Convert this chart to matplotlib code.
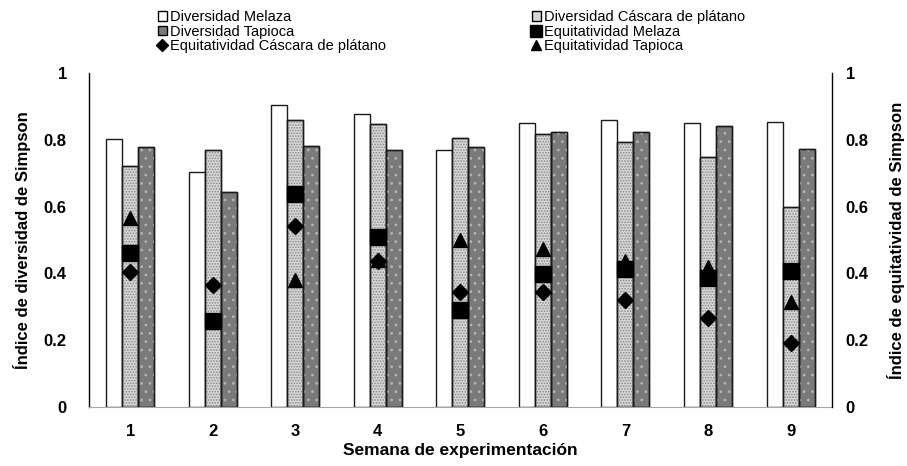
import numpy as np
import matplotlib.pyplot as plt
from matplotlib.patches import Patch
from matplotlib.lines import Line2D

plt.rcParams['font.family'] = ['Liberation Sans', 'DejaVu Sans']
plt.rcParams['hatch.linewidth'] = 0.8

semanas = ['1', '2', '3', '4', '5', '6', '7', '8', '9']

# diversidad (eje izquierdo)
div_melaza = [0.802, 0.704, 0.905, 0.876, 0.770, 0.851, 0.858, 0.849, 0.854]
div_cascara = [0.721, 0.770, 0.858, 0.846, 0.805, 0.817, 0.793, 0.748, 0.598]
div_tapioca = [0.777, 0.645, 0.782, 0.768, 0.777, 0.823, 0.823, 0.840, 0.772]

# equitatividad (eje derecho)
eq_melaza = [0.461, 0.258, 0.638, 0.508, 0.290, 0.397, 0.414, 0.387, 0.406]
eq_cascara = [0.404, 0.364, 0.543, 0.437, 0.343, 0.345, 0.321, 0.265, 0.192]
eq_tapioca = [0.565, None, 0.381, 0.440, 0.501, 0.474, 0.437, 0.419, 0.314]

x = np.arange(len(semanas))
w = 0.194

fig = plt.figure(figsize=(9.07, 4.66), dpi=100)
ax = fig.add_axes([0.0981, 0.1266, 0.819, 0.7168])

ax.bar(x - w, div_melaza, w, color='white', edgecolor='#1a1a1a', linewidth=1.0, zorder=2)
ax.bar(x, div_cascara, w, color='#d6d6d6', edgecolor='#1a1a1a', linewidth=1.0, zorder=2)
ax.bar(x, div_cascara, w, color='none', edgecolor='#8a8a8a', hatch='......', linewidth=0, zorder=2.1)
ax.bar(x + w, div_tapioca, w, color='#7a7a7a', edgecolor='#1a1a1a', linewidth=1.0, zorder=2)
ax.bar(x + w, div_tapioca, w, color='none', edgecolor='#b4b4b4', hatch='..', linewidth=0, zorder=2.1)
# bordes por encima del rayado
ax.bar(x, div_cascara, w, color='none', edgecolor='#1a1a1a', linewidth=1.0, zorder=2.2)
ax.bar(x + w, div_tapioca, w, color='none', edgecolor='#1a1a1a', linewidth=1.0, zorder=2.2)

ax.set_xlim(-0.5, len(semanas) - 0.5)
ax.set_ylim(0, 1)
ax.set_yticks([0, 0.2, 0.4, 0.6, 0.8, 1])
ax.set_yticklabels(['0', '0.2', '0.4', '0.6', '0.8', '1'])
ax.set_xticks(x)
ax.set_xticklabels(semanas)
ax.tick_params(axis='both', length=0, labelsize=12)
ax.tick_params(axis='y', pad=16)
ax.tick_params(axis='x', pad=12)
for lab in ax.get_xticklabels() + ax.get_yticklabels():
    lab.set_fontweight('bold')
ax.spines['top'].set_visible(False)
ax.spines['right'].set_visible(False)
ax.spines['bottom'].set_color('#a6a6a6')
ax.spines['left'].set_linewidth(1.0)
ax.set_xlabel('Semana de experimentación', fontsize=12.5, fontweight='bold', labelpad=3)
ax.set_ylabel('Índice de diversidad de Simpson', fontsize=12, fontweight='bold', labelpad=9)

ax2 = ax.twinx()
ax2.set_ylim(0, 1)
ax2.set_yticks([0, 0.2, 0.4, 0.6, 0.8, 1])
ax2.set_yticklabels(['0', '0.2', '0.4', '0.6', '0.8', '1'])
ax2.tick_params(axis='y', length=0, labelsize=12, pad=10)
for lab in ax2.get_yticklabels():
    lab.set_fontweight('bold')
ax2.spines['top'].set_visible(False)
ax2.spines['left'].set_visible(False)
ax2.spines['bottom'].set_visible(False)
ax2.spines['right'].set_linewidth(1.0)
ax2.set_ylabel('Índice de equitatividad de Simpson', fontsize=12, fontweight='bold', labelpad=13)

eq_t = np.array([np.nan if v is None else v for v in eq_tapioca])
ax2.plot(x, eq_melaza, ls='none', marker='s', ms=11.5, color='black', zorder=3)
ax2.plot(x, eq_cascara, ls='none', marker='D', ms=8, color='black', zorder=3)
ax2.plot(x, eq_t, ls='none', marker='^', ms=10, color='black', zorder=3)

# leyenda con simbolos pequeños
h_dm = Patch(facecolor='white', edgecolor='black', linewidth=1.0)
h_dt = Patch(facecolor='#7a7a7a', edgecolor='black', linewidth=1.0)
h_dc = Patch(facecolor='#d6d6d6', edgecolor='black', linewidth=1.0)
h_ec = Line2D([], [], ls='none', marker='D', ms=6, color='black')
h_em = Line2D([], [], ls='none', marker='s', ms=8, color='black')
h_et = Line2D([], [], ls='none', marker='^', ms=7.5, color='black')
handles = [h_dm, h_dt, h_ec, h_dc, h_em, h_et]
labels = ['Diversidad Melaza', 'Diversidad Tapioca', 'Equitatividad Cáscara de plátano',
          'Diversidad Cáscara de plátano', 'Equitatividad Melaza', 'Equitatividad Tapioca']
fig.legend(handles, labels, ncol=2, loc='upper left', bbox_to_anchor=(0.174, 0.978),
           frameon=False, fontsize=10.5, handlelength=0.6, handleheight=0.6,
           handletextpad=0.25, labelspacing=0.02, columnspacing=10.0, borderaxespad=0,
           borderpad=0)

fig.savefig('out.png', dpi=100)
